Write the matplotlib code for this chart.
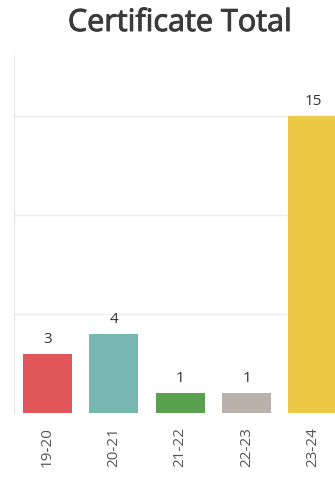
import matplotlib.pyplot as plt
import matplotlib.patheffects as pe

years = ["19-20", "20-21", "21-22", "22-23", "23-24"]
totals = [3, 4, 1, 1, 15]
colors = ["#E15759", "#76B7B2", "#59A14F", "#BAB0AC", "#EDC948"]

fig = plt.figure(figsize=(3.35, 4.79), dpi=100)
ax = fig.add_axes([0.042, 0.138, 0.958, 0.747])

x = range(len(years))
bars = ax.bar(x, totals, width=0.74, color=colors, zorder=2)
for b, v in zip(bars, totals):
    ax.text(b.get_x() + b.get_width() / 2, v + 0.35, str(v),
            ha="center", va="bottom", fontsize=11, color="#333333",
            family="Open Sans")

ax.set_xlim(-0.5, 4.33)
ax.set_ylim(0, 18.1)
ax.set_yticks([5, 10, 15])
ax.yaxis.grid(True, color="#eeeeee", linewidth=1, zorder=0)
ax.tick_params(axis="y", left=False, labelleft=False)
ax.set_xticks(list(x))
ax.set_xticklabels(years, rotation=90, fontsize=11, color="#555555",
                   family="Open Sans")
ax.tick_params(axis="x", length=0, pad=10)

for side in ["top", "right", "bottom"]:
    ax.spines[side].set_visible(False)
ax.spines["left"].set_color("#e6e6e6")

# slightly heavier than regular weight
fig.text(0.537, 0.952, "Certificate Total", ha="center", va="center",
         fontsize=22, color="#3a3a3a", family="Open Sans",
         path_effects=[pe.withStroke(linewidth=0.7, foreground="#3a3a3a")])

fig.savefig("out.png", dpi=100)
